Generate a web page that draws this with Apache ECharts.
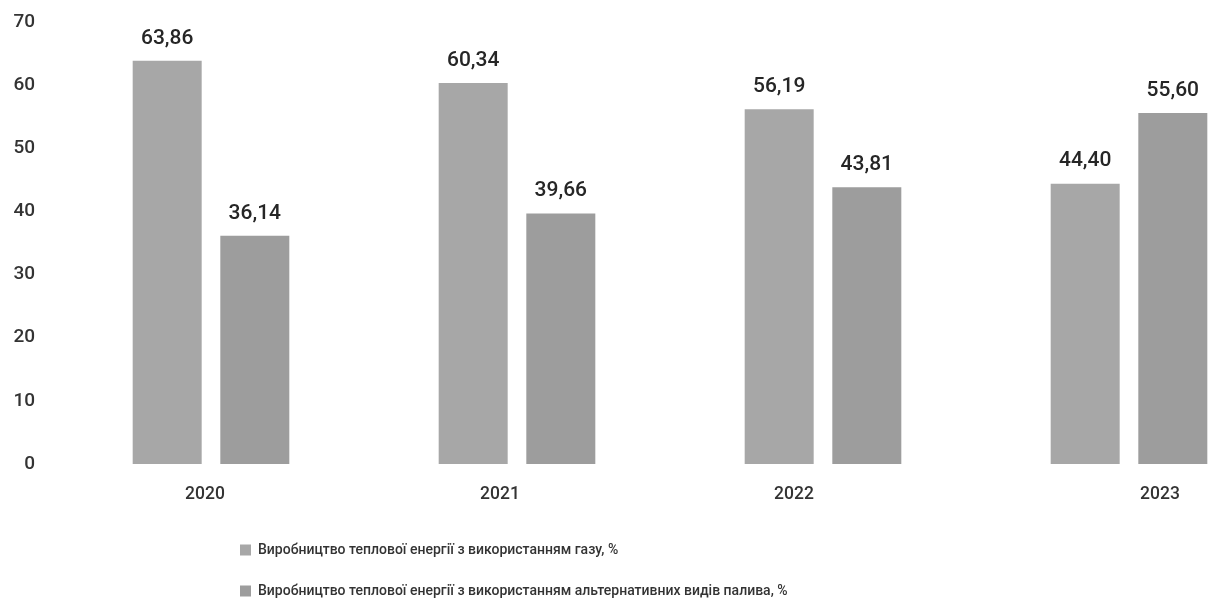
<!DOCTYPE html>
<html>
<head>
<meta charset="utf-8">
<script src="https://cdn.jsdelivr.net/npm/echarts@6/dist/echarts.min.js"></script>
<style>
  html, body { margin: 0; padding: 0; background: #fff; }
  #chart { width: 1210px; height: 603px; }
</style>
</head>
<body>
<div id="chart"></div>
<script>
// Years on the category axis
const years = ['2020', '2021', '2022', '2023'];
// Share of heat produced from gas, %
const gasShare = [63.86, 60.34, 56.19, 44.40];
// Share of heat produced from alternative fuels, %
const altShare = [36.14, 39.66, 43.81, 55.60];
const seriesNames = [
  'Виробництво теплової енергії з використанням газу, %',
  'Виробництво теплової енергії з використанням альтернативних видів палива, %'
];

const FONT = 'Roboto, "Noto Sans", sans-serif';
const fmt = v => v.toFixed(2).replace('.', ',');

const labelStyle = {
  show: true,
  position: 'top',
  distance: 12,
  color: '#262626',
  fontSize: 21,
  fontWeight: 500,
  fontFamily: FONT,
  formatter: p => fmt(p.value)
};

// per-year nudges of the axis labels (rich padding moves centred text)
const yearRich = {
  y0: { padding: [0, 12, 0, 0] },
  y1: { padding: [0, 34, 0, 0] },
  y2: { padding: [0, 58, 0, 0] },
  y3: { padding: [0, 0, 0, 62] }
};

const chart = echarts.init(document.getElementById('chart'));
chart.setOption({
  backgroundColor: '#ffffff',
  animation: false,
  textStyle: { fontFamily: FONT },
  // the last category runs past the right edge of the canvas
  grid: { left: 58, width: 1224, top: 22, bottom: 139, outerBoundsMode: 'none', containLabel: false },
  legend: {
    orient: 'vertical',
    left: 240,
    top: 543,
    padding: 0,
    itemGap: 27,
    itemWidth: 11,
    itemHeight: 11,
    icon: 'rect',
    textStyle: { color: '#333', fontSize: 14, fontWeight: 500, fontFamily: FONT, padding: [0, 0, 0, 2] },
    data: seriesNames
  },
  xAxis: {
    type: 'category',
    data: years,
    axisLine: { show: false },
    axisTick: { show: false },
    axisLabel: {
      color: '#333', fontSize: 17.5, fontWeight: 500, fontFamily: FONT, margin: 22,
      formatter: (v, i) => '{y' + i + '|' + v + '}',
      rich: Object.fromEntries(Object.entries(yearRich).map(([k, s]) => [k, Object.assign({
        color: '#333', fontSize: 17.5, fontWeight: 500, fontFamily: FONT
      }, s)]))
    }
  },
  yAxis: {
    type: 'value',
    min: 0,
    max: 70,
    interval: 10,
    splitLine: { show: false },
    axisLine: { show: false },
    axisTick: { show: false },
    axisLabel: { color: '#333', fontSize: 19, fontWeight: 500, fontFamily: FONT, margin: 23 }
  },
  series: [
    {
      name: seriesNames[0],
      type: 'bar',
      data: gasShare,
      barWidth: 69,
      barGap: '27%',
      itemStyle: { color: '#a7a7a7' },
      label: labelStyle
    },
    {
      name: seriesNames[1],
      type: 'bar',
      data: altShare,
      barWidth: 69,
      itemStyle: { color: '#9d9d9d' },
      label: labelStyle
    }
  ]
});
</script>
</body>
</html>
